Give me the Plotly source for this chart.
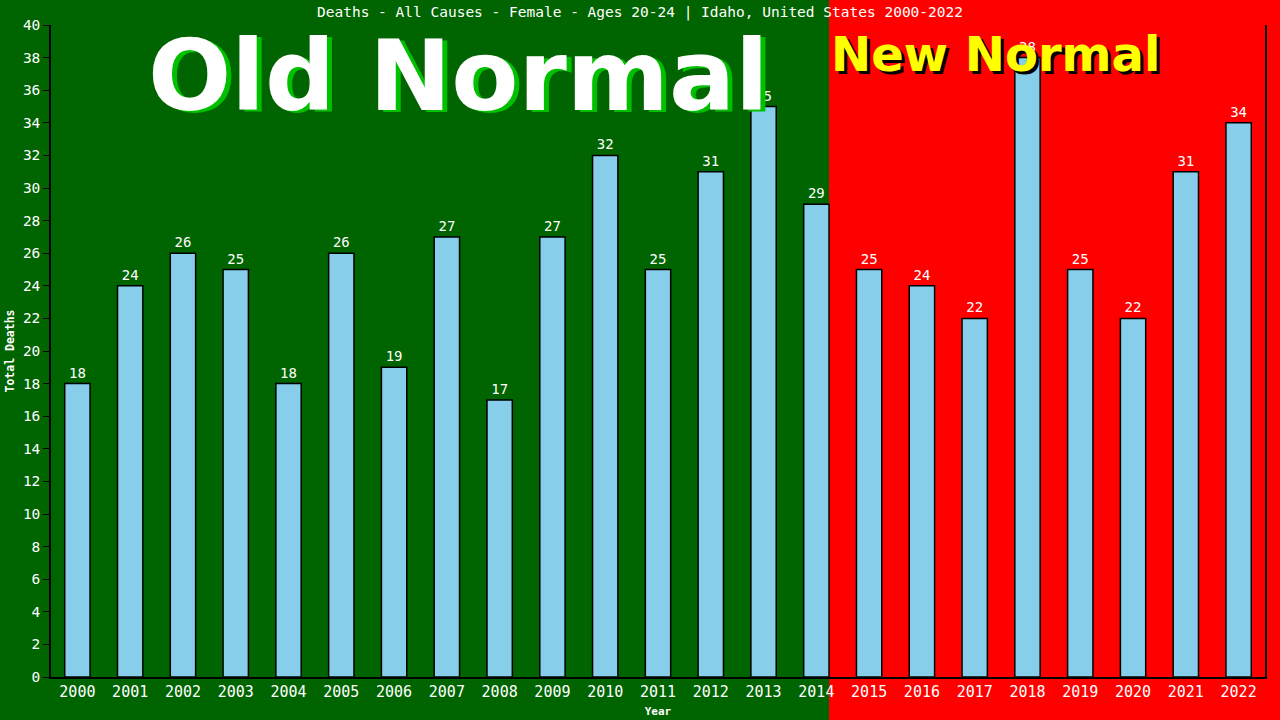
import plotly.graph_objects as go

years = [str(y) for y in range(2000, 2023)]
deaths = [18, 24, 26, 25, 18, 26, 19, 27, 17, 27, 32, 25, 31, 35, 29,
          25, 24, 22, 38, 25, 22, 31, 34]
last_old_year = '2014'

title = 'Deaths - All Causes - Female - Ages 20-24 | Idaho, United States 2000-2022'
mono = 'DejaVu Sans Mono'
bargap = 0.52

fig = go.Figure()
fig.add_trace(go.Bar(
    x=years, y=deaths, text=deaths, textposition='outside',
    textfont=dict(color='white', size=14, family=mono),
    marker=dict(color='skyblue', line=dict(color='black', width=1.5)),
    cliponaxis=False,
))

# red "new normal" region starts at the right edge of the last old-normal bar
split_frac = (years.index(last_old_year) + 0.5 + (1 - bargap) / 2) / len(years)
fig.add_shape(type='rect', xref='paper', yref='paper', x0=split_frac, x1=1.2,
              y0=-0.2, y1=1.2, fillcolor='red', line_width=0, layer='below')

big = dict(xref='paper', yref='paper', showarrow=False, yanchor='middle')
fig.add_annotation(text='<b>Old Normal</b>', x=0.336, y=0.922, xanchor='center',
                   xshift=5, yshift=-2,
                   font=dict(size=98, color='#00c000', family='DejaVu Sans'), **big)
fig.add_annotation(text='<b>Old Normal</b>', x=0.336, y=0.922, xanchor='center',
                   font=dict(size=98, color='white', family='DejaVu Sans'), **big)
fig.add_annotation(text='<b>New Normal</b>', x=split_frac, xanchor='left', y=0.955,
                   xshift=3, yshift=-3,
                   font=dict(size=48, color='black', family='DejaVu Sans'), **big)
fig.add_annotation(text='<b>New Normal</b>', x=split_frac, xanchor='left', y=0.955,
                   font=dict(size=48, color='yellow', family='DejaVu Sans'), **big)

fig.update_layout(
    width=1280, height=720,
    title=dict(text=title, x=0.5, y=0.983, yanchor='middle',
               font=dict(size=14.5, color='white', family=mono)),
    paper_bgcolor='#006400', plot_bgcolor='rgba(0,0,0,0)',
    margin=dict(l=51, r=15, t=25, b=43, autoexpand=False),
    bargap=bargap, showlegend=False,
    font=dict(family=mono, color='white'),
)
fig.update_xaxes(title=dict(text='<b>Year</b>', font=dict(size=11, color='white'), standoff=8),
                 automargin=False,
                 showline=True, linecolor='black', linewidth=1.5, showgrid=False,
                 tickfont=dict(size=15, color='white'), ticks='')
fig.update_yaxes(title=dict(text='<b>Total Deaths</b>', font=dict(size=11.5, color='white'), standoff=6),
                 automargin=False,
                 range=[0, 40], dtick=2, showline=True, mirror=True, linecolor='black',
                 linewidth=1.5, showgrid=False, zeroline=False, ticks='outside',
                 ticklen=6, tickcolor='black', tickfont=dict(size=14.5, color='white'))

fig.write_html('out.html', config={'displayModeBar': False},
               post_script="document.body.style.margin='0';document.body.style.overflow='hidden';")
